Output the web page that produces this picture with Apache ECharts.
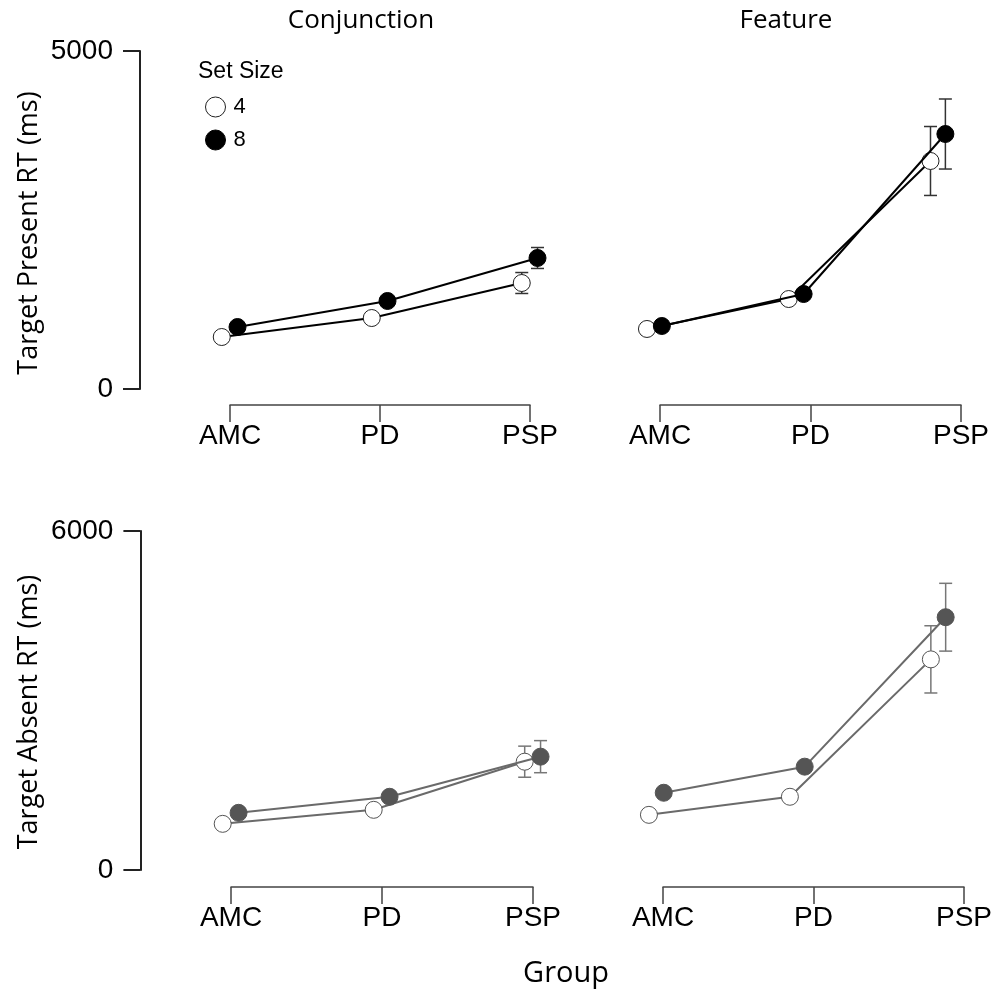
<!DOCTYPE html>
<html>
<head>
<meta charset="utf-8">
<script src="https://cdn.jsdelivr.net/npm/echarts@6/dist/echarts.min.js"></script>
<style>
    html, body { margin: 0; padding: 0; background: #fff; }
    #chart { width: 995px; height: 993px; }
</style>
</head>
<body>
<div id="chart"></div>
<script>
// groups on the x axis
var groups = ['AMC', 'PD', 'PSP'];
var setSizes = ['4', '8'];

// y tick labels
var presentTicks = [0, 5000];
var absentTicks = [0, 6000];

// Target present RT (ms), mean and error
var presentConj4 = [769, 1050, 1568];
var presentConj8 = [917, 1302, 1938];
var presentConj4Err = [null, null, 155];
var presentConj8Err = [null, null, 155];

var presentFeat4 = [888, 1331, 3373];
var presentFeat8 = [932, 1405, 3772];
var presentFeat4Err = [null, null, 510];
var presentFeat8Err = [null, null, 518];

// Target absent RT (ms), mean and error
var absentConj4 = [817, 1065, 1917];
var absentConj8 = [1012, 1296, 2006];
var absentConj4Err = [null, null, 275];
var absentConj8Err = [null, null, 284];

var absentFeat4 = [976, 1296, 3728];
var absentFeat8 = [1367, 1829, 4474];
var absentFeat4Err = [null, null, 595];
var absentFeat8Err = [null, null, 600];

var myChart = echarts.init(document.getElementById('chart'));

var LABEL_FONT = 'Liberation Sans, Arial, sans-serif';
var OFF4 = -0.055, OFF8 = 0.05;

// panels: data grid position + x axis position
var panels = [
    {left: 230, step: 150, top: 51, height: 338, axisY: 404, ticks: presentTicks, showY: true,
        s4: presentConj4, s8: presentConj8, e4: presentConj4Err, e8: presentConj8Err,
        line: '#000', fill: '#000', border: '#222', err: '#333'},
    {left: 660, step: 150.5, top: 51, height: 338, axisY: 404, ticks: presentTicks, showY: false,
        s4: presentFeat4, s8: presentFeat8, e4: presentFeat4Err, e8: presentFeat8Err,
        line: '#000', fill: '#000', border: '#222', err: '#333'},
    {left: 231, step: 151, top: 531, height: 339, axisY: 886, ticks: absentTicks, showY: true,
        s4: absentConj4, s8: absentConj8, e4: absentConj4Err, e8: absentConj8Err,
        line: '#6a6a6a', fill: '#555', border: '#555', err: '#777'},
    {left: 663, step: 151.5, top: 531, height: 339, axisY: 886, ticks: absentTicks, showY: false,
        s4: absentFeat4, s8: absentFeat8, e4: absentFeat4Err, e8: absentFeat8Err,
        line: '#6a6a6a', fill: '#555', border: '#555', err: '#777'}
];

function makeErr(color) {
    return function (params, api) {
        var x = api.value(0), y = api.value(1), e = api.value(2);
        var top = api.coord([x, y + e]);
        var bot = api.coord([x, y - e]);
        var cap = 6.5;
        var st = {stroke: color, lineWidth: 1.5};
        return {
            type: 'group',
            children: [
                {type: 'line', shape: {x1: top[0], y1: top[1], x2: bot[0], y2: bot[1]}, style: st},
                {type: 'line', shape: {x1: top[0] - cap, y1: top[1], x2: top[0] + cap, y2: top[1]}, style: st},
                {type: 'line', shape: {x1: bot[0] - cap, y1: bot[1], x2: bot[0] + cap, y2: bot[1]}, style: st}
            ]
        };
    };
}

function points(vals, off) {
    var out = [];
    for (var i = 0; i < vals.length; i++) out.push([i + off, vals[i]]);
    return out;
}

function errPoints(vals, errs, off) {
    var out = [];
    for (var i = 0; i < vals.length; i++) {
        if (errs[i] != null) out.push([i + off, vals[i], errs[i]]);
    }
    return out;
}

var grid = [], xAxis = [], yAxis = [], series = [];

for (var p = 0; p < panels.length; p++) {
    var c = panels[p];
    // data grid
    grid.push({left: c.left - 0.6 * c.step, top: c.top, width: 3 * c.step, height: c.height});
    xAxis.push({type: 'value', gridIndex: p, min: -0.6, max: 2.4, show: false});
    yAxis.push({
        type: 'value', gridIndex: p, min: c.ticks[0], max: c.ticks[1], interval: c.ticks[1] - c.ticks[0],
        show: c.showY,
        axisLine: {show: true, onZero: false, lineStyle: {color: '#222', width: 2}},
        axisTick: {show: true, length: 17, lineStyle: {color: '#222', width: 2}},
        axisLabel: {
            fontSize: 28, fontFamily: LABEL_FONT, color: '#000', margin: 27,
            formatter: function (v) { return String(v); }
        },
        splitLine: {show: false}
    });
}

for (var p = 0; p < panels.length; p++) {
    var c = panels[p];
    // separate group axis below
    var gi = panels.length + p;
    grid.push({left: c.left, top: c.axisY, width: 2 * c.step, height: 1});
    xAxis.push({
        type: 'category', gridIndex: gi, data: groups, boundaryGap: false, position: 'bottom',
        axisLine: {lineStyle: {color: '#444', width: 1.5}},
        axisTick: {length: 17, lineStyle: {color: '#444', width: 1.5}},
        axisLabel: {fontSize: 28, fontFamily: LABEL_FONT, color: '#000', margin: 17}
    });
    yAxis.push({type: 'value', gridIndex: gi, show: false});
}

for (var p = 0; p < panels.length; p++) {
    var c = panels[p];
    series.push({
        name: 'err4', type: 'custom', xAxisIndex: p, yAxisIndex: p, z: 1,
        renderItem: makeErr(c.err), encode: {x: 0, y: 1}, data: errPoints(c.s4, c.e4, OFF4)
    });
    series.push({
        name: 'err8', type: 'custom', xAxisIndex: p, yAxisIndex: p, z: 1,
        renderItem: makeErr(c.err), encode: {x: 0, y: 1}, data: errPoints(c.s8, c.e8, OFF8)
    });
    series.push({
        name: setSizes[0], type: 'line', xAxisIndex: p, yAxisIndex: p, z: 2,
        symbol: 'circle', symbolSize: 17,
        lineStyle: {color: c.line, width: 2},
        itemStyle: {color: '#fff', borderColor: c.border, borderWidth: 1},
        data: points(c.s4, OFF4)
    });
    series.push({
        name: setSizes[1], type: 'line', xAxisIndex: p, yAxisIndex: p, z: 3,
        symbol: 'circle', symbolSize: 17,
        lineStyle: {color: c.line, width: 2},
        itemStyle: {color: c.fill, borderColor: c.fill, borderWidth: 1},
        data: points(c.s8, OFF8)
    });
}

var option = {
    animation: false,
    backgroundColor: '#fff',
    grid: grid,
    xAxis: xAxis,
    yAxis: yAxis,
    legend: {
        data: setSizes,
        orient: 'vertical',
        left: 205,
        top: 96,
        padding: 0,
        itemWidth: 20,
        itemHeight: 20,
        itemGap: 11,
        icon: 'circle',
        itemStyle: {borderWidth: 1},
        textStyle: {fontSize: 22, fontFamily: LABEL_FONT, color: '#000', padding: [0, 0, 0, 3]}
    },
    graphic: [
        {type: 'text', x: 361, y: 21, style: {text: 'Conjunction', font: '26px "Open Sans"', fill: '#000',
            textAlign: 'center', textVerticalAlign: 'middle', align: 'center', verticalAlign: 'middle'}},
        {type: 'text', x: 786, y: 21, style: {text: 'Feature', font: '26px "Open Sans"', fill: '#000',
            textAlign: 'center', textVerticalAlign: 'middle', align: 'center', verticalAlign: 'middle'}},
        {type: 'text', x: 29, y: 233, rotation: Math.PI / 2, style: {text: 'Target Present RT (ms)', font: '27px "Open Sans"', fill: '#000',
            textAlign: 'center', textVerticalAlign: 'middle', align: 'center', verticalAlign: 'middle'}},
        {type: 'text', x: 29, y: 712, rotation: Math.PI / 2, style: {text: 'Target Absent RT (ms)', font: '27px "Open Sans"', fill: '#000',
            textAlign: 'center', textVerticalAlign: 'middle', align: 'center', verticalAlign: 'middle'}},
        {type: 'text', x: 566, y: 974, style: {text: 'Group', font: '29px "Open Sans"', fill: '#000',
            textAlign: 'center', textVerticalAlign: 'middle', align: 'center', verticalAlign: 'middle'}},
        {type: 'text', x: 198, y: 72, style: {text: 'Set Size', font: '23px "Liberation Sans"', fill: '#000',
            textAlign: 'left', textVerticalAlign: 'middle', align: 'left', verticalAlign: 'middle'}}
    ],
    series: series
};

myChart.setOption(option);
</script>
</body>
</html>
